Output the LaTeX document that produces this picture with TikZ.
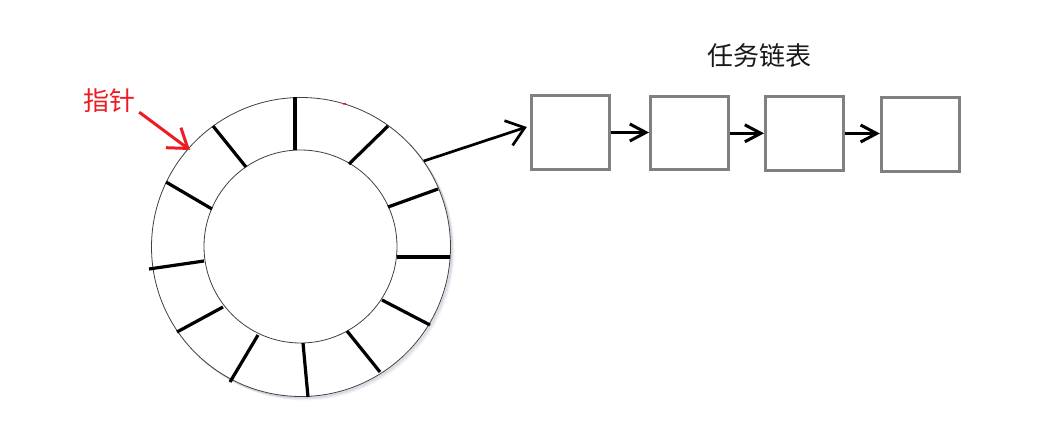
\documentclass[tikz,border=0pt]{standalone}
\usepackage{fontspec}
\newfontfamily\cjk{Noto Sans CJK SC}
\usetikzlibrary{arrows.meta,calc}
\definecolor{ptrred}{HTML}{ED1C24}
\definecolor{boxgray}{HTML}{808080}
\definecolor{ringline}{HTML}{404040}
\definecolor{shadowc}{HTML}{8A8FA8}
\begin{document}
\begin{tikzpicture}[x=1pt,y=-1pt,
  spoke/.style={line width=3.2pt,black},
  listbox/.style={draw=boxgray,line width=3pt,minimum width=78pt,minimum height=73pt,inner sep=0pt,fill=white},
  linkarrow/.style={line width=3pt,black,-{Straight Barb[length=16pt,width=17pt]}},
  bigarrow/.style={line width=2.7pt,black,-{Straight Barb[length=17pt,width=26pt]}},
  redarrow/.style={line width=3pt,ptrred,-{Straight Barb[length=18pt,width=25pt]}},
  lbl/.style={font=\cjk\fontsize{26}{31}\selectfont,inner sep=0pt}]
\useasboundingbox[fill=white] (0,0) rectangle (1040,425);
% shadow of the ring
\foreach \o/\op in {3.5/0.08,2.5/0.15,1.5/0.25}
  \draw[shadowc,opacity=\op,line width=2pt] (301+\o,247+\o) circle[radius=149pt];
% ring
\node[circle,draw=ringline,line width=0.8pt,minimum size=299pt,inner sep=0pt,fill=white] (outer) at (301,247) {};
\node[circle,draw=ringline,line width=0.8pt,minimum size=193pt,inner sep=0pt] (inner) at (300.5,246.5) {};
% spokes
\draw[spoke] (295,97) -- (295,150);
\draw[spoke] (388,126) -- (349,164);
\draw[spoke] (438,189) -- (388,207);
\draw[spoke] (450,257) -- (397,257);
\draw[spoke] (430,325) -- (382,300);
\draw[spoke] (380,372) -- (347,331);
\draw[spoke] (308,397) -- (303,343);
\draw[spoke] (230,382) -- (258,335);
\draw[spoke] (177,332) -- (223,307);
\draw[spoke] (149,269) -- (204,261);
\draw[spoke] (166,182) -- (212,209);
\draw[spoke] (213,126) -- (246,167);
\draw[ptrred,line width=1.5pt] (343,104) -- (346,103.5);
% list
\node[lbl,text=black!90] (title) at (759,56) {任务链表};
\node[listbox] (b1) at (570.3,132.5) {};
\node[listbox] (b2) at (689.5,133.3) {};
\node[listbox] (b3) at (804.5,133.5) {};
\node[listbox] (b4) at (920.3,134.5) {};
\draw[linkarrow] (b1.east) -- (b1.east -| b2.west);
\draw[linkarrow] (b2.east) -- (b2.east -| b3.west);
\draw[linkarrow] (b3.east) -- (b3.east -| b4.west);
\draw[bigarrow] (outer.35.4) -- ($(b1.west)+(-3,-5.5)$);
% pointer
\node[lbl,text=ptrred] (ptr) at (109,101) {指针};
\coordinate (ptrtip) at (190,150);
\draw[redarrow] ($(ptr.south east)+(4,-1)$) -- (ptrtip);
\end{tikzpicture}
\end{document}
